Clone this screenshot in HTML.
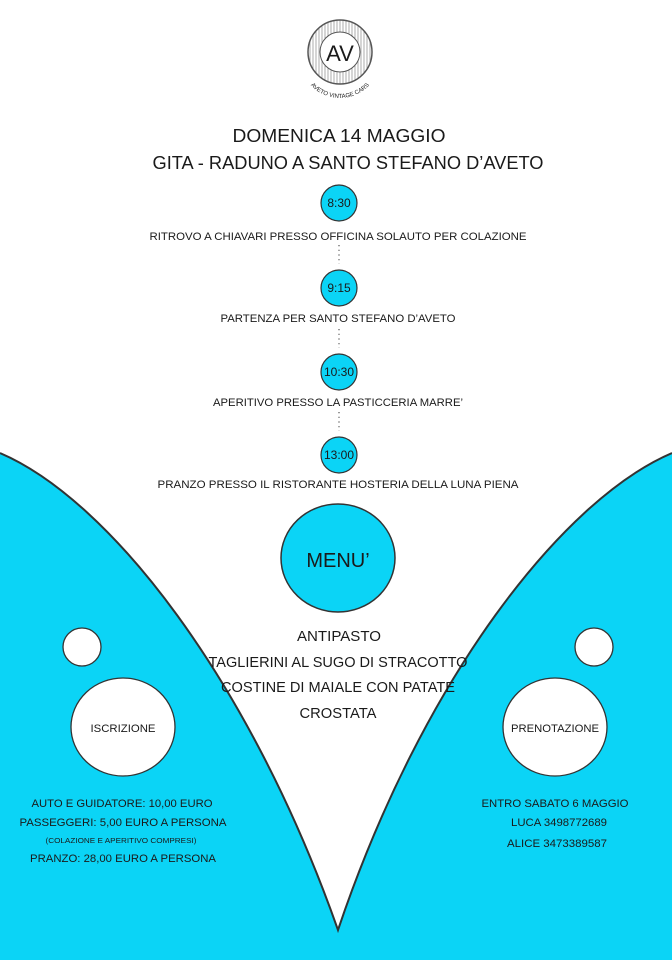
<!DOCTYPE html>
<html><head><meta charset="utf-8"><style>
html,body{margin:0;padding:0;background:#fff;}
svg{display:block;}
text{font-family:"Liberation Sans",sans-serif;fill:#1a1a1a;}
</style></head><body>
<svg width="672" height="960" viewBox="0 0 672 960" xmlns="http://www.w3.org/2000/svg">
<defs>
<clipPath id="lc"><circle cx="340" cy="52" r="32"/></clipPath>
<path id="arc" d="M300,58 A40,40 0 0 0 380,58"/>
</defs>
<rect width="672" height="960" fill="#fff"/>
<path d="M0,453 C110,500 250,680 338,930 C422,680 562,500 672,453 L672,960 L0,960 Z" fill="#0bd4f6"/>
<path d="M0,453 C110,500 250,680 338,930 C422,680 562,500 672,453" fill="none" stroke="#333" stroke-width="2"/>
<g clip-path="url(#lc)" stroke="#888" stroke-width="0.7">
<line x1="310" y1="18" x2="310" y2="88"/><line x1="313" y1="18" x2="313" y2="88"/><line x1="316" y1="18" x2="316" y2="88"/><line x1="319" y1="18" x2="319" y2="88"/><line x1="322" y1="18" x2="322" y2="88"/><line x1="325" y1="18" x2="325" y2="88"/><line x1="328" y1="18" x2="328" y2="88"/><line x1="331" y1="18" x2="331" y2="88"/><line x1="334" y1="18" x2="334" y2="88"/><line x1="337" y1="18" x2="337" y2="88"/><line x1="340" y1="18" x2="340" y2="88"/><line x1="343" y1="18" x2="343" y2="88"/><line x1="346" y1="18" x2="346" y2="88"/><line x1="349" y1="18" x2="349" y2="88"/><line x1="352" y1="18" x2="352" y2="88"/><line x1="355" y1="18" x2="355" y2="88"/><line x1="358" y1="18" x2="358" y2="88"/><line x1="361" y1="18" x2="361" y2="88"/><line x1="364" y1="18" x2="364" y2="88"/><line x1="367" y1="18" x2="367" y2="88"/><line x1="370" y1="18" x2="370" y2="88"/>
</g>
<circle cx="340" cy="52" r="32" fill="none" stroke="#555" stroke-width="1.5"/>
<circle cx="340" cy="52" r="20" fill="#fff" stroke="#555" stroke-width="1"/>
<text x="340" y="61" font-size="22" text-anchor="middle" fill="#444">AV</text>
<text font-size="6" fill="#444"><textPath href="#arc" startOffset="50%" text-anchor="middle">AVETO VINTAGE CARS</textPath></text>
<text x="339" y="142" font-size="18" text-anchor="middle" textLength="213" lengthAdjust="spacingAndGlyphs">DOMENICA 14 MAGGIO</text>
<text x="348" y="169" font-size="18" text-anchor="middle" textLength="391" lengthAdjust="spacingAndGlyphs">GITA - RADUNO A SANTO STEFANO D’AVETO</text>
<g fill="#0bd4f6" stroke="#333" stroke-width="1.2">
<circle cx="339" cy="203" r="18"/><circle cx="339" cy="288" r="18"/><circle cx="339" cy="372" r="18"/><circle cx="339" cy="455" r="18"/>
</g>
<g font-size="12" text-anchor="middle">
<text x="339" y="207">8:30</text><text x="339" y="292">9:15</text><text x="339" y="376">10:30</text><text x="339" y="459">13:00</text>
</g>
<g stroke="#555" stroke-width="1.2" stroke-dasharray="1.2,3.5">
<line x1="339" y1="245" x2="339" y2="264"/><line x1="339" y1="329" x2="339" y2="348"/><line x1="339" y1="412" x2="339" y2="431"/>
</g>
<g font-size="11" text-anchor="middle">
<text x="338" y="240" textLength="377" lengthAdjust="spacingAndGlyphs">RITROVO A CHIAVARI PRESSO OFFICINA SOLAUTO PER COLAZIONE</text>
<text x="338" y="322" textLength="235" lengthAdjust="spacingAndGlyphs">PARTENZA PER SANTO STEFANO D’AVETO</text>
<text x="338" y="406" textLength="250" lengthAdjust="spacingAndGlyphs">APERITIVO PRESSO LA PASTICCERIA MARRE’</text>
<text x="338" y="488" textLength="361" lengthAdjust="spacingAndGlyphs">PRANZO PRESSO IL RISTORANTE HOSTERIA DELLA LUNA PIENA</text>
</g>
<ellipse cx="338" cy="558" rx="57" ry="54" fill="#0bd4f6" stroke="#333" stroke-width="1.5"/>
<text x="338" y="567" font-size="20" text-anchor="middle">MENU’</text>
<g font-size="15" text-anchor="middle">
<text x="339" y="641" textLength="84" lengthAdjust="spacingAndGlyphs">ANTIPASTO</text>
<text x="338" y="667" textLength="259" lengthAdjust="spacingAndGlyphs">TAGLIERINI AL SUGO DI STRACOTTO</text>
<text x="338" y="692" textLength="234" lengthAdjust="spacingAndGlyphs">COSTINE DI MAIALE CON PATATE</text>
<text x="338" y="718" textLength="77" lengthAdjust="spacingAndGlyphs">CROSTATA</text>
</g>
<g fill="#fff" stroke="#333" stroke-width="1.3">
<circle cx="82" cy="647" r="19"/><ellipse cx="123" cy="727" rx="52" ry="49"/>
<circle cx="594" cy="647" r="19"/><ellipse cx="555" cy="727" rx="52" ry="49"/>
</g>
<text x="123" y="732" font-size="11" text-anchor="middle" textLength="65" lengthAdjust="spacingAndGlyphs">ISCRIZIONE</text>
<text x="555" y="732" font-size="11" text-anchor="middle" textLength="88" lengthAdjust="spacingAndGlyphs">PRENOTAZIONE</text>
<g font-size="11" text-anchor="middle">
<text x="122" y="807" textLength="181" lengthAdjust="spacingAndGlyphs">AUTO E GUIDATORE: 10,00 EURO</text>
<text x="123" y="826" textLength="207" lengthAdjust="spacingAndGlyphs">PASSEGGERI: 5,00 EURO A PERSONA</text>
<text x="121" y="843" font-size="7" textLength="151" lengthAdjust="spacingAndGlyphs">(COLAZIONE E APERITIVO COMPRESI)</text>
<text x="123" y="862" textLength="186" lengthAdjust="spacingAndGlyphs">PRANZO: 28,00 EURO A PERSONA</text>
<text x="555" y="807" textLength="147" lengthAdjust="spacingAndGlyphs">ENTRO SABATO 6 MAGGIO</text>
<text x="559" y="826" textLength="96" lengthAdjust="spacingAndGlyphs">LUCA 3498772689</text>
<text x="557" y="847" textLength="100" lengthAdjust="spacingAndGlyphs">ALICE 3473389587</text>
</g>
</svg>
</body></html>
